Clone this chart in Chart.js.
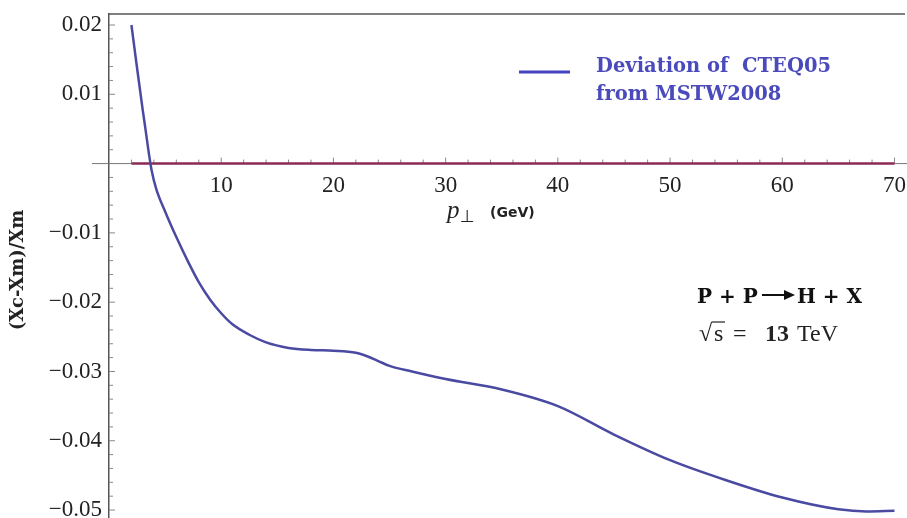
<!DOCTYPE html>
<html>
<head>
<meta charset="utf-8">
<script src="https://cdn.jsdelivr.net/npm/chart.js@4.4.1/dist/chart.umd.min.js"></script>
<style>
  html, body { margin: 0; padding: 0; background: #fff; }
</style>
</head>
<body>
<canvas id="devChart" width="907" height="518"></canvas>
<script>
// curve: relative deviation vs p_T (GeV)
const ptValues  = [2, 2.5, 3, 3.3, 3.55, 3.8, 4.2, 5, 6, 7, 8, 9, 10, 11, 12.5, 14, 16, 18, 20, 22, 23, 24, 25, 27, 30, 35, 40, 45, 50, 55, 60, 65, 67.5, 70];
const deviation = [0.0200, 0.0138, 0.0078, 0.0044, 0.0015, -0.0010, -0.0036, -0.0069, -0.0106, -0.0140, -0.0171, -0.0196, -0.0216, -0.0232, -0.0247, -0.0258, -0.0266, -0.0269, -0.0270, -0.0273, -0.0278, -0.0285, -0.0292, -0.0300, -0.0311, -0.0326, -0.0350, -0.0391, -0.0428, -0.0457, -0.0482, -0.0499, -0.0502, -0.0501];
const refPt     = [2, 70];
const refValues = [0, 0];
const xTickValues = [10, 20, 30, 40, 50, 60, 70];
const yTickValues = [0.02, 0.01, -0.01, -0.02, -0.03, -0.04, -0.05];
const legendLines = ['Deviation of  CTEQ05', 'from MSTW2008'];

const decorations = {
  id: 'decorations',
  beforeDatasetsDraw(chart) {
    const { ctx, chartArea, scales: { x, y } } = chart;
    const y0 = y.getPixelForValue(0);
    ctx.save();
    // axis line at y = 0, slightly past the left frame like the original
    ctx.strokeStyle = '#777';
    ctx.lineWidth = 1;
    ctx.beginPath();
    ctx.moveTo(chartArea.left - 17, y0);
    ctx.lineTo(907, y0);
    ctx.stroke();
    // top frame
    ctx.strokeStyle = '#555';
    ctx.lineWidth = 1.5;
    ctx.beginPath();
    ctx.moveTo(chartArea.left, chartArea.top);
    ctx.lineTo(905, chartArea.top);
    ctx.stroke();
    // inward ticks
    ctx.strokeStyle = '#888';
    ctx.lineWidth = 1;
    for (let v = 2; v <= 70; v += 2) {
      const px = x.getPixelForValue(v);
      const len = v % 10 === 0 ? 6 : 4;
      ctx.beginPath();
      ctx.moveTo(px, y0);
      ctx.lineTo(px, y0 - len);
      ctx.stroke();
    }
    for (let i = -25; i <= 10; i++) {
      if (i === 0) continue;
      const py = y.getPixelForValue(i * 0.002);
      const len = i % 5 === 0 ? 6 : 4;
      ctx.beginPath();
      ctx.moveTo(chartArea.left, py);
      ctx.lineTo(chartArea.left + len, py);
      ctx.stroke();
    }
    ctx.restore();
  },
  afterDraw(chart) {
    const { ctx } = chart;
    ctx.save();
    ctx.textBaseline = 'alphabetic';
    ctx.textAlign = 'left';

    // legend
    ctx.strokeStyle = '#4343c0';
    ctx.lineWidth = 3;
    ctx.beginPath();
    ctx.moveTo(519, 72);
    ctx.lineTo(570, 72);
    ctx.stroke();
    ctx.fillStyle = '#4a4abc';
    ctx.font = 'bold 19.5px "DejaVu Serif"';
    ctx.fillText(legendLines[0], 596, 72);
    ctx.fillText(legendLines[1], 596, 100);

    // x axis title
    ctx.fillStyle = '#222';
    ctx.font = 'italic 25px "Liberation Serif"';
    ctx.fillText('p', 447, 218);
    ctx.font = '17px "DejaVu Sans"';
    ctx.fillText('\u22A5', 460, 222);
    ctx.font = 'bold 14px "DejaVu Sans"';
    ctx.fillText('(GeV)', 490, 217);

    // y axis title
    ctx.save();
    ctx.translate(23, 270);
    ctx.rotate(-Math.PI / 2);
    ctx.textAlign = 'center';
    ctx.font = 'bold 18px "DejaVu Serif"';
    ctx.fillText('(Xc-Xm)/Xm', 0, 0);
    ctx.restore();

    // process annotation
    ctx.fillStyle = '#111';
    ctx.font = 'bold 20px "DejaVu Serif"';
    ctx.fillText('P + P', 697, 303);
    ctx.fillText('H + X', 797, 303);
    ctx.strokeStyle = '#111';
    ctx.lineWidth = 2;
    ctx.beginPath();
    ctx.moveTo(762, 295);
    ctx.lineTo(788, 295);
    ctx.stroke();
    ctx.beginPath();
    ctx.moveTo(795, 295);
    ctx.lineTo(784, 290);
    ctx.lineTo(784, 300);
    ctx.closePath();
    ctx.fill();

    ctx.fillStyle = '#222';
    ctx.font = '24px "Liberation Serif"';
    ctx.fillText('\u221A', 699, 341);
    ctx.fillText('s', 714, 341);
    ctx.fillText('=', 733, 341);
    ctx.lineWidth = 1.2;
    ctx.strokeStyle = '#222';
    ctx.beginPath();
    ctx.moveTo(712, 322);
    ctx.lineTo(725, 322);
    ctx.stroke();
    ctx.font = 'bold 24px "Liberation Serif"';
    ctx.fillText('13', 765, 341);
    ctx.font = '24px "Liberation Serif"';
    ctx.fillText('TeV', 797, 341);
    ctx.restore();
  }
};

new Chart(document.getElementById('devChart'), {
  type: 'line',
  data: {
    datasets: [
      {
        label: 'Deviation of CTEQ05 from MSTW2008',
        data: ptValues.map((p, i) => ({ x: p, y: deviation[i] })),
        borderColor: '#4a4aa2',
        borderWidth: 2.5,
        pointRadius: 0,
        cubicInterpolationMode: 'monotone',
        fill: false
      },
      {
        label: 'reference',
        data: refPt.map((p, i) => ({ x: p, y: refValues[i] })),
        borderColor: '#8c2a55',
        borderWidth: 2.5,
        pointRadius: 0,
        fill: false
      }
    ]
  },
  options: {
    responsive: false,
    animation: false,
    layout: { padding: { top: 14, left: 0, right: 0, bottom: 0 }, autoPadding: false },
    plugins: { legend: { display: false }, tooltip: { enabled: false } },
    scales: {
      x: {
        type: 'linear',
        min: 0,
        max: 71.07,
        position: { y: 0 },
        afterBuildTicks: s => { s.ticks = xTickValues.map(v => ({ value: v })); },
        ticks: {
          padding: 1,
          color: '#222',
          font: { family: 'Liberation Serif', size: 23 },
          callback: v => String(v)
        },
        grid: { display: false },
        border: { display: false }
      },
      y: {
        type: 'linear',
        min: -0.05115,
        max: 0.02159,
        position: 'left',
        afterBuildTicks: s => { s.ticks = yTickValues.map(v => ({ value: v })); },
        afterFit: s => { s.width = 109; s.paddingTop = 0; s.paddingBottom = 0; },
        ticks: {
          padding: 7,
          color: '#222',
          font: { family: 'Liberation Serif', size: 23 },
          callback: v => (v < 0 ? '\u2212' : '') + Math.abs(v).toFixed(2)
        },
        grid: { display: false, drawTicks: false },
        border: { display: true, color: '#555', width: 1.5 }
      }
    }
  },
  plugins: [decorations]
});
</script>
</body>
</html>
